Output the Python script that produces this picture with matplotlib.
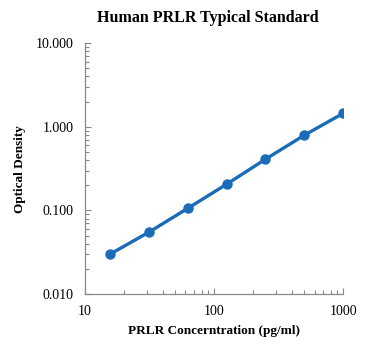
import numpy as np
import matplotlib
matplotlib.use("Agg")
from matplotlib import pyplot as plt
from matplotlib.ticker import FixedLocator, LogLocator, NullFormatter

conc = [15.6, 31.25, 62.5, 125, 250, 500, 1000]
od = [0.030, 0.055, 0.106, 0.206, 0.410, 0.794, 1.45]
yticks = [0.01, 0.1, 1, 10]
ytick_labels = ["0.010", "0.100", "1.000", "10.000"]
xticks = [10, 100, 1000]
xtick_labels = ["10", "100", "1000"]

plt.rcParams['font.family'] = ['Liberation Serif', 'DejaVu Serif']
blue = "#1a6cb8"

fig = plt.figure(figsize=(3.71, 3.51), dpi=100)
ax = fig.add_axes([0.229, 0.162, 0.696, 0.715])

ax.plot(conc, od, color=blue, linewidth=2.4, marker='o', markersize=6.5)

ax.set_xscale('log')
ax.set_yscale('log')
ax.set_xlim(10, 1000)
ax.set_ylim(0.01, 10)

ax.xaxis.set_major_locator(FixedLocator(xticks))
ax.set_xticklabels(xtick_labels)
ax.yaxis.set_major_locator(FixedLocator(yticks))
ax.set_yticklabels(ytick_labels)
ax.xaxis.set_minor_locator(LogLocator(base=10, subs=np.arange(2, 10)))
ax.yaxis.set_minor_locator(LogLocator(base=10, subs=np.arange(2, 10)))
ax.xaxis.set_minor_formatter(NullFormatter())
ax.yaxis.set_minor_formatter(NullFormatter())

for s in ['top', 'right']:
    ax.spines[s].set_visible(False)
for s in ['left', 'bottom']:
    ax.spines[s].set_color('#888888')
    ax.spines[s].set_linewidth(0.9)

ax.tick_params(which='both', direction='in', colors='#888888', labelcolor='black', labelsize=10)
ax.tick_params(which='major', length=4, width=0.8, pad=8)
ax.tick_params(which='minor', length=3, width=0.8)

ax.set_title("Human PRLR Typical Standard", fontsize=11.5, fontweight='bold', pad=15, x=0.475)
ax.set_xlabel("PRLR Concerntration (pg/ml)", fontsize=9.5, fontweight='bold', labelpad=5)
ax.set_ylabel("Optical Density", fontsize=9.5, fontweight='bold', labelpad=7)

fig.savefig("out.png", dpi=100)
